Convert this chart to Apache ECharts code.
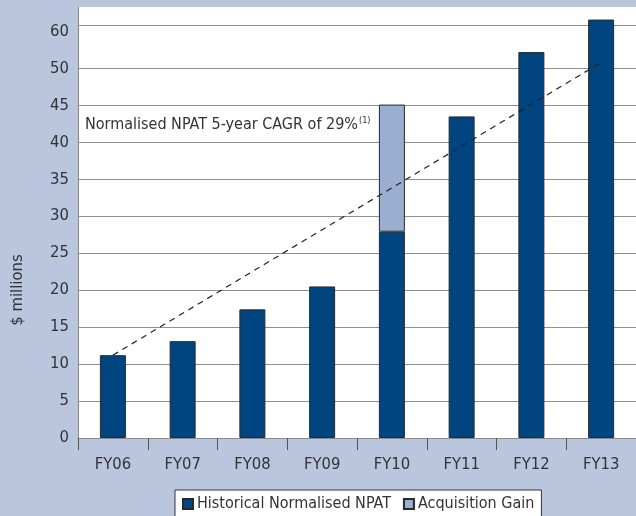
<!DOCTYPE html>
<html><head><meta charset="utf-8">
<script src="https://cdn.jsdelivr.net/npm/echarts@6/dist/echarts.min.js"></script>
<style>html,body{margin:0;padding:0;background:#b9c6de;}#c{width:636px;height:516px;}</style>
</head><body><div id="c"></div>
<script>
const categories = ['FY06','FY07','FY08','FY09','FY10','FY11','FY12','FY13'];
const historicalNPAT = [11.2, 13.1, 17.4, 20.5, 27.9, 43.5, 52.2, 56.6];
const acquisitionGain = [null, null, null, null, 17.2, null, null, null];
const trendLine = [11.2, null, null, null, null, null, null, 50.8];
const yTickLabels = ['0','5','10','15','20','25','30','35','40','45','50','60'];
const yGridValues = [5,10,15,20,25,30,35,40,45,50,55.8];

const FONT = "'Liberation Sans Narrow','DejaVu Sans Condensed',sans-serif";
const chart = echarts.init(document.getElementById('c'));
chart.setOption({
  animation: false,
  backgroundColor: '#b9c6de',
  textStyle: { fontFamily: FONT },
  grid: { left: 78, right: 0, top: 7, bottom: 78, containLabel: false, outerBoundsMode: 'none',
          show: true, backgroundColor: '#ffffff', borderWidth: 0 },
  xAxis: {
    type: 'category', data: categories,
    axisLine: { lineStyle: { color: '#8a8a8a', width: 1 } },
    axisTick: { show: true, length: 12, lineStyle: { color: '#555' } },
    axisLabel: { color: '#333', fontSize: 16.5, fontFamily: FONT, margin: 18 }
  },
  yAxis: {
    type: 'value', min: 0, max: 58.3, interval: 5,
    axisLine: { show: true, lineStyle: { color: '#8a8a8a' } },
    axisTick: { show: false },
    splitLine: { show: false },
    axisLabel: {
      color: '#333', fontSize: 16.5, fontFamily: FONT, margin: 9,
      formatter: function (v) {
        const i = Math.round(v / 5);
        if (Math.abs(v - i * 5) > 1e-6) return '';
        return yTickLabels[i] !== undefined ? yTickLabels[i] : '';
      }
    }
  },
  legend: {
    bottom: -6, left: 175,
    data: ['Historical Normalised NPAT', 'Acquisition Gain'],
    icon: 'rect', itemWidth: 10, itemHeight: 10, itemGap: 12,
    backgroundColor: '#ffffff', borderColor: '#333', borderWidth: 1,
    padding: [6, 7, 10, 7],
    textStyle: { color: '#333', fontSize: 16, fontFamily: FONT, padding: [0, 0, 0, -1] }
  },
  graphic: [{
    type: 'text', left: 85, top: 116,
    style: {
      text: '{a|Normalised NPAT 5-year CAGR of 29%}{s|(1)}',
      rich: {
        a: { fontSize: 16, fontFamily: FONT, fill: '#333' },
        s: { fontSize: 9, fontFamily: FONT, fill: '#333', verticalAlign: 'top', padding: [0,0,8,1] }
      }
    }
  }, {
    type: 'text', x: 18, y: 290, rotation: Math.PI / 2,
    style: {
      text: '$ millions', fontSize: 16.5, fontFamily: FONT, fill: '#333',
      align: 'center', verticalAlign: 'middle'
    }
  }],
  series: [
    {
      name: 'grid', type: 'line', data: [], z: 1, silent: true,
      markLine: {
        z: 1, silent: true, symbol: 'none', animation: false,
        label: { show: false },
        lineStyle: { color: '#8f8f8f', type: 'solid', width: 1 },
        data: yGridValues.map(v => ({ yAxis: v }))
      }
    },
    {
      name: 'Historical Normalised NPAT', type: 'bar', stack: 'a', data: historicalNPAT,
      barWidth: 26, z: 3,
      itemStyle: { color: '#00457f', borderColor: '#222a33', borderWidth: 1 }
    },
    {
      name: 'Acquisition Gain', type: 'bar', stack: 'a', data: acquisitionGain,
      barWidth: 26, z: 3,
      itemStyle: { color: '#9aaed0', borderColor: '#222a33', borderWidth: 1 }
    },
    {
      name: 'trend', type: 'line', data: trendLine, connectNulls: true, z: 5,
      symbol: 'none', silent: true,
      lineStyle: { color: '#222', width: 1.2, type: [6, 5] }
    }
  ]
});
</script></body></html>
